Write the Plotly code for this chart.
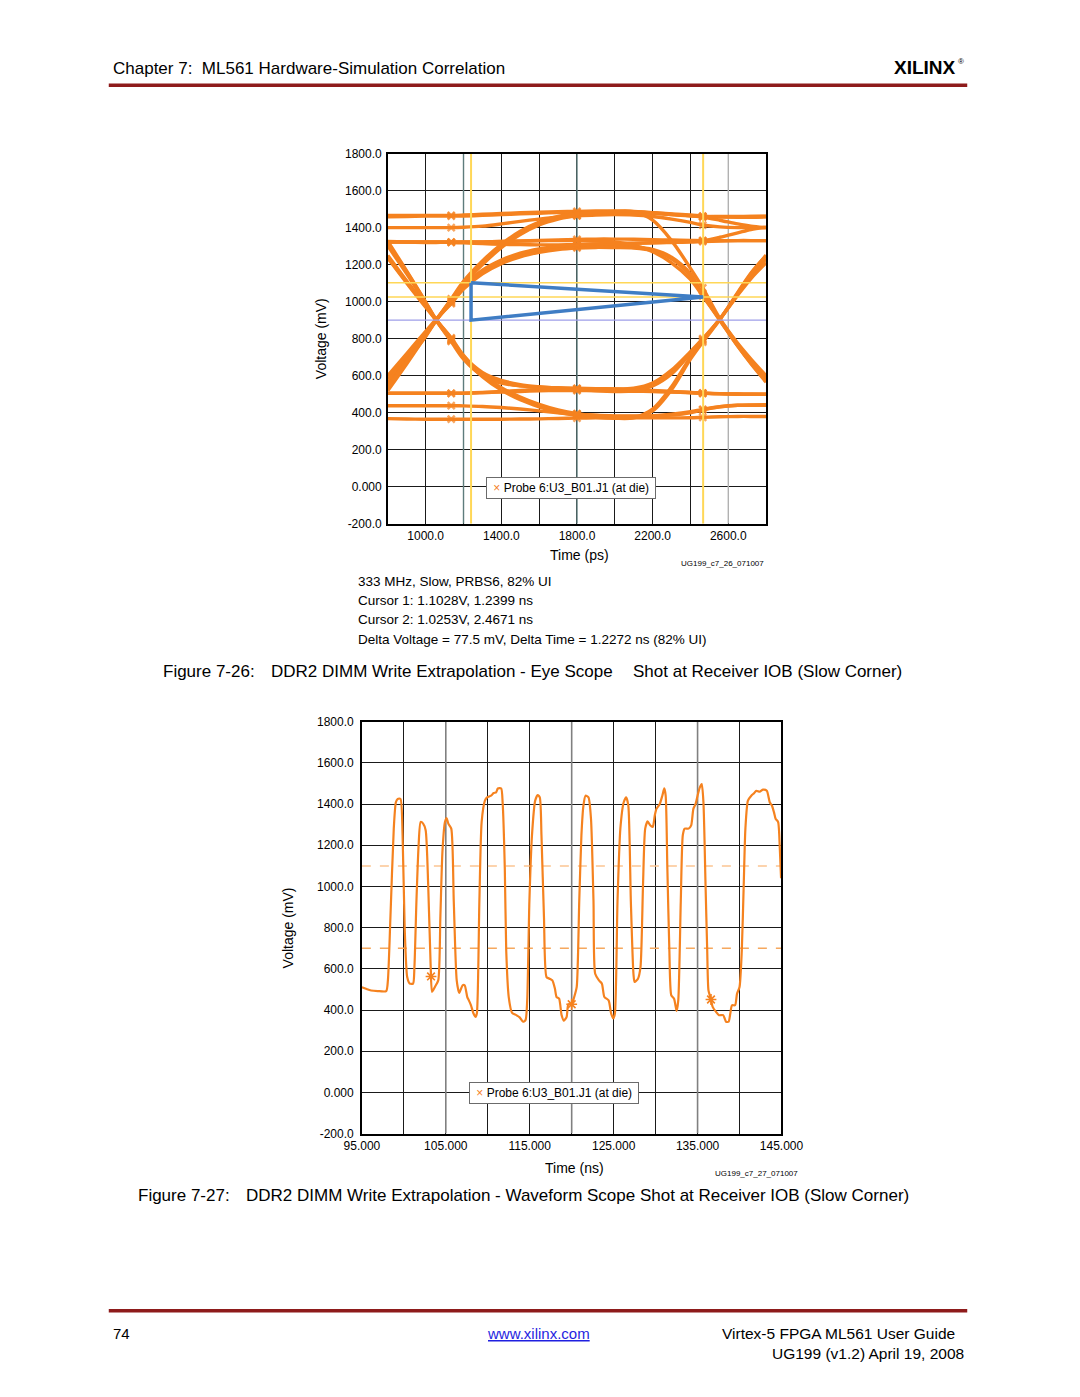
import plotly.graph_objects as go

# the page body has an 8px margin on every side; the figure fills the rest exactly
OFF = 8
W, H = 1080 - 2 * OFF, 1397 - 2 * OFF
FONT = "Liberation Sans, Arial, Helvetica, sans-serif"
ORANGE = "#F5821F"

# ---------------- Figure 7-26 : eye diagram (time in ps, voltage in mV) ----------------
eye_t = [800, 900, 1000, 1055, 1135, 1200, 1300, 1400, 1500, 1600, 1700, 1800,
         1900, 2000, 2100, 2200, 2300, 2400, 2465, 2555, 2650, 2720, 2800]

eye_hhh_1460 = [1458, 1460, 1462, 1462, 1462, 1463, 1466, 1470, 1474, 1478, 1481, 1483,
                1485, 1486, 1484, 1478, 1471, 1465, 1461, 1459, 1459, 1460, 1462]
eye_hhh_1400 = [1400, 1400, 1400, 1400, 1400, 1402, 1408, 1420, 1434, 1446, 1456, 1463,
                1468, 1470, 1468, 1460, 1446, 1428, 1414, 1404, 1400, 1400, 1400]
eye_hhh_1320 = [1322, 1322, 1322, 1322, 1322, 1322, 1323, 1325, 1328, 1331, 1334, 1336,
                1338, 1338, 1337, 1335, 1333, 1331, 1330, 1330, 1330, 1330, 1330]
eye_hhh_up = [1325, 1322, 1320, 1320, 1320, 1318, 1314, 1310, 1308, 1307, 1307, 1308,
              1310, 1312, 1315, 1318, 1322, 1326, 1330, 1348, 1372, 1390, 1402]
eye_hhh_down = [1466, 1466, 1466, 1466, 1466, 1468, 1472, 1476, 1480, 1483, 1486, 1488,
                1490, 1490, 1487, 1481, 1473, 1464, 1457, 1440, 1420, 1408, 1400]

eye_lll_500 = [505, 505, 505, 505, 505, 506, 510, 515, 520, 525, 528, 530,
               530, 528, 525, 520, 515, 510, 506, 503, 501, 500, 500]
eye_lll_440 = [438, 438, 438, 438, 438, 437, 434, 428, 420, 410, 400, 392,
               386, 383, 382, 384, 392, 405, 418, 432, 440, 442, 443]
eye_lll_370 = [368, 366, 365, 365, 365, 365, 365, 365, 366, 367, 369, 371,
               372, 372, 372, 372, 372, 373, 375, 378, 380, 380, 380]

eye_rise_hold_outer = [560, 690, 820, 900, 1010, 1100, 1210, 1300, 1370, 1420, 1450, 1468,
                       1478, 1484, 1484, 1478, 1470, 1464, 1460, 1460, 1460, 1460, 1460]
eye_rise_hold_outer2 = [545, 680, 812, 897, 1005, 1092, 1200, 1292, 1362, 1414, 1446, 1465,
                        1476, 1482, 1483, 1480, 1474, 1468, 1462, 1458, 1456, 1456, 1458]
eye_rise_fall_inner = [520, 665, 815, 900, 995, 1075, 1160, 1215, 1250, 1272, 1288, 1296,
                       1300, 1300, 1296, 1282, 1240, 1150, 1035, 905, 770, 680, 590]
eye_rise_fall_inner2 = [535, 675, 820, 902, 990, 1068, 1150, 1205, 1242, 1266, 1282, 1290,
                        1293, 1292, 1290, 1276, 1232, 1140, 1040, 902, 760, 668, 575]
eye_rise_fall_outer = [580, 710, 830, 900, 1015, 1110, 1220, 1310, 1380, 1430, 1460, 1475,
                       1483, 1488, 1486, 1440, 1330, 1180, 1075, 910, 775, 690, 600]
eye_rise_hold_inner = [600, 720, 840, 905, 1000, 1085, 1170, 1225, 1262, 1285, 1300, 1308,
                       1312, 1315, 1316, 1318, 1320, 1322, 1325, 1328, 1330, 1330, 1330]

eye_fall_hold_mid = [1300, 1150, 990, 900, 790, 700, 610, 565, 545, 535, 528, 524,
                     520, 518, 516, 515, 512, 508, 505, 502, 500, 500, 500]
eye_fall_hold_mid2 = [1325, 1165, 998, 903, 795, 705, 618, 575, 552, 540, 532, 527,
                      523, 520, 518, 516, 513, 509, 506, 503, 501, 500, 499]
eye_fall_rise_low = [1235, 1100, 970, 900, 800, 705, 600, 530, 480, 440, 410, 392,
                     380, 374, 375, 420, 540, 700, 790, 905, 1040, 1140, 1230]
eye_fall_rise_low2 = [1250, 1112, 978, 903, 795, 698, 594, 522, 470, 432, 402, 385,
                      375, 370, 372, 410, 525, 690, 782, 902, 1050, 1155, 1250]
eye_fall_rise_mid = [1310, 1160, 995, 900, 785, 690, 600, 560, 545, 538, 535, 532,
                     530, 528, 532, 560, 630, 730, 800, 905, 1035, 1125, 1210]
eye_fall_hold_low = [1240, 1105, 975, 902, 805, 710, 605, 535, 485, 445, 415, 395,
                     385, 380, 380, 382, 388, 400, 415, 432, 440, 440, 440]

eye_hold_fall_1320 = [1322, 1322, 1322, 1322, 1322, 1322, 1323, 1325, 1327, 1329, 1330, 1330,
                      1328, 1322, 1305, 1270, 1210, 1120, 1030, 900, 760, 665, 565]
eye_hold_rise_500 = [505, 505, 505, 505, 505, 505, 508, 512, 515, 518, 520, 520,
                     518, 515, 518, 545, 610, 720, 795, 905, 1045, 1150, 1250]

eye_marker_t = [1135, 1800, 2465]

cursor_t = [1239.9, 2467.1]        # ps
cursor_v = [1102.8, 1025.3]        # mV
eye_ref_v = 900.0                  # mV
eye_triangle_low_v = 900.0         # mV

eye_xticks = [800, 1000, 1200, 1400, 1600, 1800, 2000, 2200, 2400, 2600, 2800]
eye_xlabels = ["", "1000.0", "", "1400.0", "", "1800.0", "", "2200.0", "", "2600.0", ""]
eye_grey_grid_t = [1200, 1800, 2600]
eye_grey_grid_colors = ["#5E7C7C", "#5E7C7C", "#B8B8B8"]
yticks = [-200, 0, 200, 400, 600, 800, 1000, 1200, 1400, 1600, 1800]
ylabels = ["-200.0", "0.000", "200.0", "400.0", "600.0", "800.0", "1000.0",
           "1200.0", "1400.0", "1600.0", "1800.0"]

# ---------------- Figure 7-27 : waveform (time in ns, voltage in mV) ----------------
wave_t = [95.0, 95.5, 96.1, 96.9, 97.9, 98.1, 98.4, 98.8, 99.05, 99.27,
          99.6, 99.85, 100.1, 100.4, 100.7, 101.1, 101.26, 101.5, 101.76, 102.0,
          102.3, 102.6, 102.9, 103.2, 103.36, 103.7, 104.1, 104.35, 104.6, 104.9,
          105.1, 105.3, 105.65, 105.95, 106.3, 106.6, 107.0, 107.25, 107.56, 107.75,
          108.0, 108.3, 108.55, 108.7, 109.0, 109.27, 109.66, 109.92, 110.4, 110.7,
          111.0, 111.2, 111.6, 111.77, 112.03, 112.2, 112.5, 112.9, 113.4, 113.8,
          114.2, 114.5, 114.7, 114.96, 115.27, 115.65, 115.95, 116.2, 116.4, 116.7,
          117.0, 117.36, 117.7, 118.0, 118.2, 118.5, 118.8, 119.07, 119.4, 119.6,
          120.0, 120.3, 120.6, 120.9, 121.16, 121.4, 121.65, 122.0, 122.3, 122.6,
          122.8, 123.25, 123.6, 123.9, 124.4, 124.7, 124.96, 125.15, 125.46, 125.8,
          126.2, 126.5, 126.75, 127.05, 127.36, 127.5, 127.9, 128.2, 128.5, 128.76,
          129.05, 129.35, 129.66, 129.9, 130.1, 130.5, 130.8, 131.03, 131.2, 131.4,
          131.64, 131.87, 132.2, 132.5, 132.7, 133.0, 133.24, 133.47, 133.93, 134.24,
          134.5, 134.77, 135.0, 135.27, 135.5, 135.7, 135.95, 136.15, 136.3, 136.6,
          136.8, 137.2, 137.56, 138.05, 138.4, 138.7, 138.9, 139.1, 139.47, 139.7,
          140.0, 140.27, 140.5, 140.7, 141.0, 141.4, 141.76, 142.0, 142.4, 142.8,
          143.25, 143.6, 143.86, 144.1, 144.3, 144.6, 144.8, 144.95]
wave_mv = [511, 503, 495, 492, 492, 544, 848, 1281, 1409, 1425,
           1425, 1249, 800, 560, 528, 528, 608, 928, 1201, 1313,
           1305, 1273, 1008, 608, 488, 512, 544, 848, 1169, 1313,
           1332, 1305, 1281, 928, 544, 483, 520, 520, 463, 447,
           423, 383, 367, 383, 928, 1313, 1417, 1433, 1441, 1454,
           1457, 1476, 1476, 1409, 1088, 688, 463, 386, 375, 364,
           343, 351, 447, 928, 1249, 1417, 1444, 1433, 1249, 848,
           560, 552, 544, 504, 463, 455, 375, 348, 367, 428,
           428, 463, 512, 928, 1249, 1393, 1441, 1433, 1329, 928,
           576, 544, 528, 463, 447, 383, 359, 383, 928, 1281,
           1409, 1433, 1393, 928, 576, 536, 552, 608, 1008, 1281,
           1316, 1297, 1289, 1345, 1377, 1401, 1441, 1476, 1441, 1088,
           688, 471, 455, 396, 447, 928, 1249, 1281, 1281, 1297,
           1377, 1401, 1441, 1481, 1497, 1409, 1008, 688, 495, 451,
           415, 391, 375, 375, 343, 343, 383, 423, 423, 479,
           512, 688, 1008, 1281, 1417, 1441, 1454, 1465, 1460, 1470,
           1465, 1409, 1393, 1361, 1329, 1313, 1185, 1040]
wave_marker_t = [103.24, 120.0, 136.6]
wave_marker_mv = [563, 428, 451]
wave_thresholds = [1100, 700]
wave_threshold_colors = ["#FBC592", "#F6A85E"]

wave_xticks = [95, 100, 105, 110, 115, 120, 125, 130, 135, 140, 145]
wave_xlabels = ["95.000", "", "105.000", "", "115.000", "", "125.000", "", "135.000", "", "145.000"]
wave_grey_grid_t = [105, 120, 135]

# ---------------- helpers for page placement ----------------
def px(x):
    return (x - OFF) / W


def py(y):
    return 1 - (y - OFF) / H


def note(text, x, y, size=14, xanchor="left", color="black", family=FONT, **kw):
    return dict(text=text, x=px(x), y=py(y), xref="paper", yref="paper",
                xanchor=xanchor, yanchor="middle", showarrow=False,
                font=dict(family=family, size=size, color=color), **kw)


fig = go.Figure()

# greyish grid lines (drawn under the data)
for t, c in zip(eye_grey_grid_t, eye_grey_grid_colors):
    fig.add_trace(go.Scatter(x=[t, t], y=[-200, 1800], mode="lines", xaxis="x", yaxis="y",
                             line=dict(color=c, width=1.4), hoverinfo="skip", showlegend=False))
for t in wave_grey_grid_t:
    fig.add_trace(go.Scatter(x=[t, t], y=[-200, 1800], mode="lines", xaxis="x2", yaxis="y2",
                             line=dict(color="#808080", width=1.6), hoverinfo="skip", showlegend=False))

# eye traces
eye_series = [eye_hhh_1460, eye_hhh_1400, eye_hhh_1320, eye_hhh_up, eye_hhh_down,
              eye_lll_500, eye_lll_440, eye_lll_370,
              eye_rise_hold_outer, eye_rise_hold_outer2, eye_rise_fall_inner,
              eye_rise_fall_inner2, eye_rise_fall_outer, eye_rise_hold_inner,
              eye_fall_hold_mid, eye_fall_hold_mid2, eye_fall_rise_low, eye_fall_rise_low2,
              eye_fall_rise_mid, eye_fall_hold_low,
              eye_hold_fall_1320, eye_hold_rise_500]
marker_sizes = [7 if t in eye_marker_t else 0 for t in eye_t]
for ys in eye_series:
    fig.add_trace(go.Scatter(
        x=eye_t, y=ys, mode="lines+markers", xaxis="x", yaxis="y",
        line=dict(color=ORANGE, width=3.4, shape="spline", smoothing=0.9),
        marker=dict(symbol="x-thin-open", size=marker_sizes,
                    line=dict(color=ORANGE, width=2.5), color=ORANGE),
        hoverinfo="skip", showlegend=False))

# cursor lines
fig.add_trace(go.Scatter(x=[800, 2800], y=[eye_ref_v, eye_ref_v], mode="lines",
                         line=dict(color="#9E9EE8", width=1.2), xaxis="x", yaxis="y",
                         hoverinfo="skip", showlegend=False))
for v in cursor_v:
    fig.add_trace(go.Scatter(x=[800, 2800], y=[v, v], mode="lines",
                             line=dict(color="#FFD757", width=1.5), xaxis="x", yaxis="y",
                             hoverinfo="skip", showlegend=False))
for t in cursor_t:
    fig.add_trace(go.Scatter(x=[t, t], y=[-200, 1800], mode="lines",
                             line=dict(color="#FFD757", width=2), xaxis="x", yaxis="y",
                             hoverinfo="skip", showlegend=False))
# eye opening triangle
fig.add_trace(go.Scatter(
    x=[cursor_t[0], cursor_t[1], cursor_t[0], cursor_t[0]],
    y=[cursor_v[0], cursor_v[1], eye_triangle_low_v, cursor_v[0]],
    mode="lines", line=dict(color="#3F7DC4", width=3.5), xaxis="x", yaxis="y",
    hoverinfo="skip", showlegend=False))

# waveform
for v, c in zip(wave_thresholds, wave_threshold_colors):
    fig.add_trace(go.Scatter(x=[95, 145], y=[v, v], mode="lines",
                             line=dict(color=c, width=1.5, dash="dash"),
                             xaxis="x2", yaxis="y2", hoverinfo="skip", showlegend=False))
fig.add_trace(go.Scatter(x=wave_t, y=wave_mv, mode="lines", xaxis="x2", yaxis="y2",
                         line=dict(color=ORANGE, width=2.2, shape="spline", smoothing=0.6),
                         hoverinfo="skip", showlegend=False))
fig.add_trace(go.Scatter(x=wave_marker_t, y=wave_marker_mv, mode="markers", xaxis="x2", yaxis="y2",
                         marker=dict(symbol="asterisk-open", size=9, color=ORANGE,
                                     line=dict(color=ORANGE, width=1.6)),
                         hoverinfo="skip", showlegend=False))

axis_common = dict(showgrid=True, gridcolor="#1a1a1a", gridwidth=1, showline=True,
                   linecolor="black", linewidth=1.6, mirror=True, ticks="",
                   zeroline=False, tickmode="array", fixedrange=True,
                   tickfont=dict(family=FONT, size=12, color="black"))

fig.update_layout(
    width=W, height=H, margin=dict(l=0, r=0, t=0, b=0),
    paper_bgcolor="white", plot_bgcolor="white", showlegend=False,
    xaxis=dict(axis_common, domain=[px(384), px(777)], range=[800, 2800], anchor="y",
               tickvals=eye_xticks, ticktext=eye_xlabels, ticklabelstandoff=0),
    yaxis=dict(axis_common, domain=[py(522), py(148)], range=[-200, 1800], anchor="x",
               tickvals=yticks, ticktext=ylabels, ticklabelstandoff=2),
    xaxis2=dict(axis_common, domain=[px(357), px(793)], range=[95, 145], anchor="y2",
                tickvals=wave_xticks, ticktext=wave_xlabels, ticklabelstandoff=0),
    yaxis2=dict(axis_common, domain=[py(1138), py(722)], range=[-200, 1800], anchor="x2",
                tickvals=yticks, ticktext=ylabels, ticklabelstandoff=4),
)

shapes = [
    dict(type="line", xref="paper", yref="paper", x0=px(94), x1=px(986), y0=py(79), y1=py(79),
         line=dict(color="#8E1B1B", width=3.5)),
    dict(type="line", xref="paper", yref="paper", x0=px(94), x1=px(986), y0=py(1317), y1=py(1317),
         line=dict(color="#8E1B1B", width=3.5)),
]
fig.update_layout(shapes=shapes)

swatch = '<span style="color:%s">&#215;</span>' % ORANGE
annotations = [
    note("Chapter 7:&nbsp;&nbsp;ML561 Hardware-Simulation Correlation", 96, 62, size=17),
    note("<b>XILINX</b>", 976, 61, size=19, xanchor="right"),
    note("&#174;", 985, 55, size=8, xanchor="right"),
    # eye figure texts
    note("Voltage (mV)", 314, 335, size=14, xanchor="center", textangle=-90),
    note("Time (ps)", 583, 554, size=14, xanchor="center"),
    note("UG199_c7_26_071007", 777, 562, size=8, xanchor="right"),
    note("&nbsp;" + swatch + " Probe 6:U3_B01.J1 (at die)&nbsp;", 574.5, 485.5, size=12,
         xanchor="center", bgcolor="white", bordercolor="#6b6b6b", borderwidth=1, borderpad=3),
    note("333 MHz, Slow, PRBS6, 82% UI", 351, 580, size=13.5),
    note("Cursor 1: 1.1028V, 1.2399 ns", 351, 600, size=13.5),
    note("Cursor 2: 1.0253V, 2.4671 ns", 351, 619, size=13.5),
    note("Delta Voltage = 77.5 mV, Delta Time = 1.2272 ns (82% UI)", 351, 639, size=13.5),
    note("Figure 7-26:", 148, 671, size=17),
    note("DDR2 DIMM Write Extrapolation - Eye Scope", 261, 671, size=17),
    note("Shot at Receiver IOB (Slow Corner)", 637, 671, size=17),
    # waveform figure texts
    note("Voltage (mV)", 280, 930, size=14, xanchor="center", textangle=-90),
    note("Time (ns)", 578, 1173, size=14, xanchor="center"),
    note("UG199_c7_27_071007", 812, 1178, size=8, xanchor="right"),
    note("&nbsp;" + swatch + " Probe 6:U3_B01.J1 (at die)&nbsp;", 557, 1097.5, size=12,
         xanchor="center", bgcolor="white", bordercolor="#6b6b6b", borderwidth=1, borderpad=3),
    note("Figure 7-27:", 122, 1201, size=17),
    note("DDR2 DIMM Write Extrapolation - Waveform Scope Shot at Receiver IOB (Slow Corner)",
         235, 1201, size=17),
    # footer
    note("74", 96, 1340, size=15),
    note("<u>www.xilinx.com</u>", 540, 1340, size=15, xanchor="center", color="#1F1FE0"),
    note("Virtex-5 FPGA ML561 User Guide", 975, 1340, size=15.5, xanchor="right"),
    note("UG199 (v1.2) April 19, 2008", 985, 1360, size=15.5, xanchor="right"),
]
fig.update_layout(annotations=annotations)

fig.write_html("out.html")
